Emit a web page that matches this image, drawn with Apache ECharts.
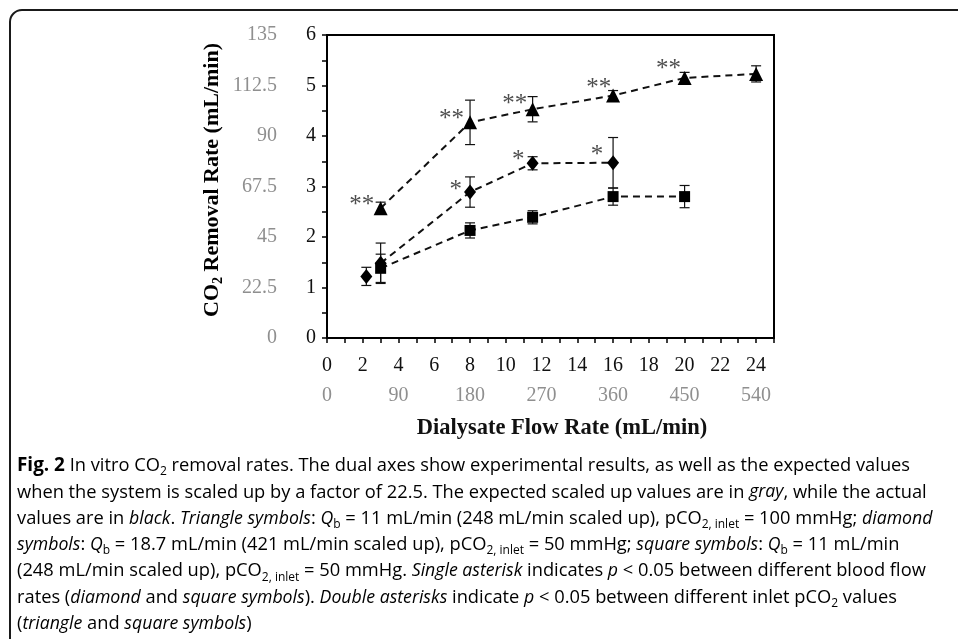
<!DOCTYPE html>
<html>
<head>
<meta charset="utf-8">
<script src="https://cdn.jsdelivr.net/npm/echarts@6/dist/echarts.min.js"></script>
<style>
html,body{margin:0;padding:0;background:#fff;}
#chart{width:958px;height:639px;}
</style>
</head>
<body>
<div id="chart"></div>
<script>
// ---- data ----
var flowTri = [3, 8, 11.5, 16, 20, 24];
var triVals = [2.57, 4.27, 4.53, 4.80, 5.15, 5.23];
var triErr  = [0.12, 0.44, 0.25, 0.10, 0.11, 0.16];

var flowDia = [3, 8, 11.5, 16];
var diaVals = [1.48, 2.89, 3.46, 3.47];
var diaErr  = [0.40, 0.30, 0.13, 0.50];

var flowDiaExtra = [2.2];
var diaExtraVals = [1.22];
var diaExtraErr  = [0.18];

var flowSq = [3, 8, 11.5, 16, 20];
var sqVals = [1.38, 2.13, 2.39, 2.80, 2.80];
var sqErr  = [0.28, 0.15, 0.13, 0.17, 0.22];

// significance markers: [flow, rate, text]
var starMarks = [
  [1.94, 2.74, '**'], [6.97, 4.45, '**'], [10.5, 4.75, '**'], [15.2, 5.06, '**'], [19.1, 5.43, '**'],
  [7.2, 3.05, '*'], [10.7, 3.63, '*'], [15.1, 3.73, '*']
];

// axis tick settings
var xMax = 25, xStep = 2;
var x2Max = 562.5, x2Step = 90;
var yMax = 6, yStep = 1;
var y2Max = 135, y2Step = 22.5;

var yTitle = [['n','CO'],['s','2'],['n',' Removal Rate (mL/min)']];
var xTitle = 'Dialysate Flow Rate (mL/min)';

var caption = [
  [['b','Fig. 2'],['n',' In vitro CO'],['s','2'],['n',' removal rates. The dual axes show experimental results, as well as the expected values']],
  [['n','when the system is scaled up by a factor of 22.5. The expected scaled up values are in '],['i','gray'],['n',', while the actual']],
  [['n','values are in '],['i','black'],['n','. '],['i','Triangle symbols'],['n',': '],['i','Q'],['s','b'],['n',' = 11 mL/min (248 mL/min scaled up), pCO'],['s','2, inlet'],['n',' = 100 mmHg; '],['i','diamond']],
  [['i','symbols'],['n',': '],['i','Q'],['s','b'],['n',' = 18.7 mL/min (421 mL/min scaled up), pCO'],['s','2, inlet'],['n',' = 50 mmHg; '],['i','square symbols'],['n',': '],['i','Q'],['s','b'],['n',' = 11 mL/min']],
  [['n','(248 mL/min scaled up), pCO'],['s','2, inlet'],['n',' = 50 mmHg. '],['i','Single asterisk'],['n',' indicates '],['i','p'],['n',' < 0.05 between different blood flow']],
  [['n','rates ('],['i','diamond'],['n',' and '],['i','square symbols'],['n','). '],['i','Double asterisks'],['n',' indicate '],['i','p'],['n',' < 0.05 between different inlet pCO'],['s','2'],['n',' values']],
  [['n','('],['i','triangle'],['n',' and '],['i','square symbols'],['n',')']]
];

// ---- helpers ----
function zip(xs, ys, es) {
  return xs.map(function (x, i) { return es ? [x, ys[i], es[i]] : [x, ys[i]]; });
}
function richStr(segs) {
  return segs.map(function (s) { return '{' + s[0] + '|' + s[1] + '}'; }).join('');
}

var serif = '"Liberation Serif", "Times New Roman", serif';
var sans = '"Open Sans", "Noto Sans", sans-serif';
var capSize = 18.3;

function errRender(params, api) {
  var x = api.value(0), y = api.value(1), e = api.value(2);
  var top = api.coord([x, y + e]);
  var bot = api.coord([x, y - e]);
  var w = 5;
  var st = { stroke: '#111', lineWidth: 1.2 };
  return {
    type: 'group',
    children: [
      { type: 'line', shape: { x1: top[0], y1: top[1], x2: bot[0], y2: bot[1] }, style: st },
      { type: 'line', shape: { x1: top[0] - w, y1: top[1], x2: top[0] + w, y2: top[1] }, style: st },
      { type: 'line', shape: { x1: bot[0] - w, y1: bot[1], x2: bot[0] + w, y2: bot[1] }, style: st }
    ]
  };
}

var chart = echarts.init(document.getElementById('chart'), null, { renderer: 'canvas' });

var capRich = {
  n: { fontFamily: sans, fontSize: capSize, color: '#2b2b2b', lineHeight: 24 },
  i: { fontFamily: sans, fontSize: capSize - 0.6, fontStyle: 'italic', color: '#2b2b2b', lineHeight: 24 },
  b: { fontFamily: sans, fontSize: capSize + 0.6, fontWeight: 'bold', color: '#2b2b2b', lineHeight: 24 },
  s: { fontFamily: sans, fontSize: 12, color: '#2b2b2b', lineHeight: 13, verticalAlign: 'bottom' }
};

var graphics = [
  {
    type: 'rect', z: -10, silent: true,
    shape: { x: 10, y: 10, width: 1100, height: 800, r: 12 },
    style: { fill: 'none', stroke: '#1a1a1a', lineWidth: 2 }
  },
  {
    type: 'text', x: 212, y: 180, rotation: Math.PI / 2,
    style: {
      text: richStr(yTitle), align: 'center', verticalAlign: 'middle',
      rich: {
        n: { fontFamily: serif, fontSize: 22, fontWeight: 'bold', color: '#111', lineHeight: 26 },
        s: { fontFamily: serif, fontSize: 14, fontWeight: 'bold', color: '#111', lineHeight: 13, verticalAlign: 'bottom' }
      }
    }
  },
  {
    type: 'text', x: 562, y: 428,
    style: { text: xTitle, align: 'center', verticalAlign: 'middle', fontFamily: serif, fontSize: 22.5, fontWeight: 'bold', fill: '#111' }
  }
];
caption.forEach(function (line, i) {
  graphics.push({
    type: 'text', x: 17, y: 466 + i * 26.3,
    style: { text: richStr(line), align: 'left', verticalAlign: 'middle', rich: capRich }
  });
});

var option = {
  animation: false,
  backgroundColor: '#fff',
  grid: { left: 327, top: 35, right: 184, bottom: 301, show: true, borderColor: '#000', borderWidth: 2, backgroundColor: 'transparent' },
  xAxis: [
    {
      type: 'value', min: 0, max: xMax, interval: xStep, position: 'bottom',
      axisLine: { show: true, onZero: false, lineStyle: { color: '#000', width: 2 } },
      axisTick: { show: true, length: 5, lineStyle: { color: '#000', width: 1.5 } },
      minorTick: { show: true, splitNumber: 2, length: 5, lineStyle: { color: '#000', width: 1.5 } },
      splitLine: { show: false },
      axisLabel: { showMaxLabel: false, margin: 18, fontFamily: serif, fontSize: 20, color: '#111' }
    },
    {
      type: 'value', min: 0, max: x2Max, interval: x2Step, position: 'bottom', offset: 30,
      axisLine: { show: false }, axisTick: { show: false }, splitLine: { show: false },
      axisLabel: { showMaxLabel: false, margin: 18, fontFamily: serif, fontSize: 20, color: '#8f8f8f' }
    }
  ],
  yAxis: [
    {
      type: 'value', min: 0, max: yMax, interval: yStep, position: 'left',
      axisLine: { show: true, onZero: false, lineStyle: { color: '#000', width: 2 } },
      axisTick: { show: true, length: 5, lineStyle: { color: '#000', width: 1.5 } },
      minorTick: { show: true, splitNumber: 2, length: 5, lineStyle: { color: '#000', width: 1.5 } },
      splitLine: { show: false },
      axisLabel: { margin: 11, fontFamily: serif, fontSize: 20, color: '#111' }
    },
    {
      type: 'value', min: 0, max: y2Max, interval: y2Step, position: 'left', offset: 40,
      axisLine: { show: false }, axisTick: { show: false }, splitLine: { show: false },
      axisLabel: { margin: 10, fontFamily: serif, fontSize: 20, color: '#8f8f8f' }
    }
  ],
  graphic: graphics,
  series: [
    { type: 'custom', renderItem: errRender, data: zip(flowTri, triVals, triErr), z: 3, encode: { x: 0, y: 1 } },
    { type: 'custom', renderItem: errRender, data: zip(flowDia, diaVals, diaErr), z: 3, encode: { x: 0, y: 1 } },
    { type: 'custom', renderItem: errRender, data: zip(flowDiaExtra, diaExtraVals, diaExtraErr), z: 3, encode: { x: 0, y: 1 } },
    { type: 'custom', renderItem: errRender, data: zip(flowSq, sqVals, sqErr), z: 3, encode: { x: 0, y: 1 } },
    {
      type: 'line', data: zip(flowTri, triVals), symbol: 'triangle', symbolSize: 14, z: 4,
      lineStyle: { color: '#111', width: 2, type: [7, 5] }, itemStyle: { color: '#000' }
    },
    {
      type: 'line', data: zip(flowDia, diaVals), symbol: 'diamond', symbolSize: [12, 15], z: 4,
      lineStyle: { color: '#111', width: 2, type: [7, 5] }, itemStyle: { color: '#000' }
    },
    {
      type: 'scatter', data: zip(flowDiaExtra, diaExtraVals), symbol: 'diamond', symbolSize: [12, 15], z: 4,
      itemStyle: { color: '#000', opacity: 1 }
    },
    {
      type: 'line', data: zip(flowSq, sqVals), symbol: 'rect', symbolSize: 11, z: 4,
      lineStyle: { color: '#111', width: 2, type: [7, 5] }, itemStyle: { color: '#000' }
    },
    {
      type: 'scatter', symbolSize: 0, z: 5,
      data: starMarks.map(function (m) { return { value: [m[0], m[1]], name: m[2] }; }),
      label: { show: true, position: 'inside', offset: [0, 6], formatter: '{b}', fontFamily: serif, fontSize: 25, color: '#222' }
    }
  ]
};
chart.setOption(option);
</script>
</body>
</html>
